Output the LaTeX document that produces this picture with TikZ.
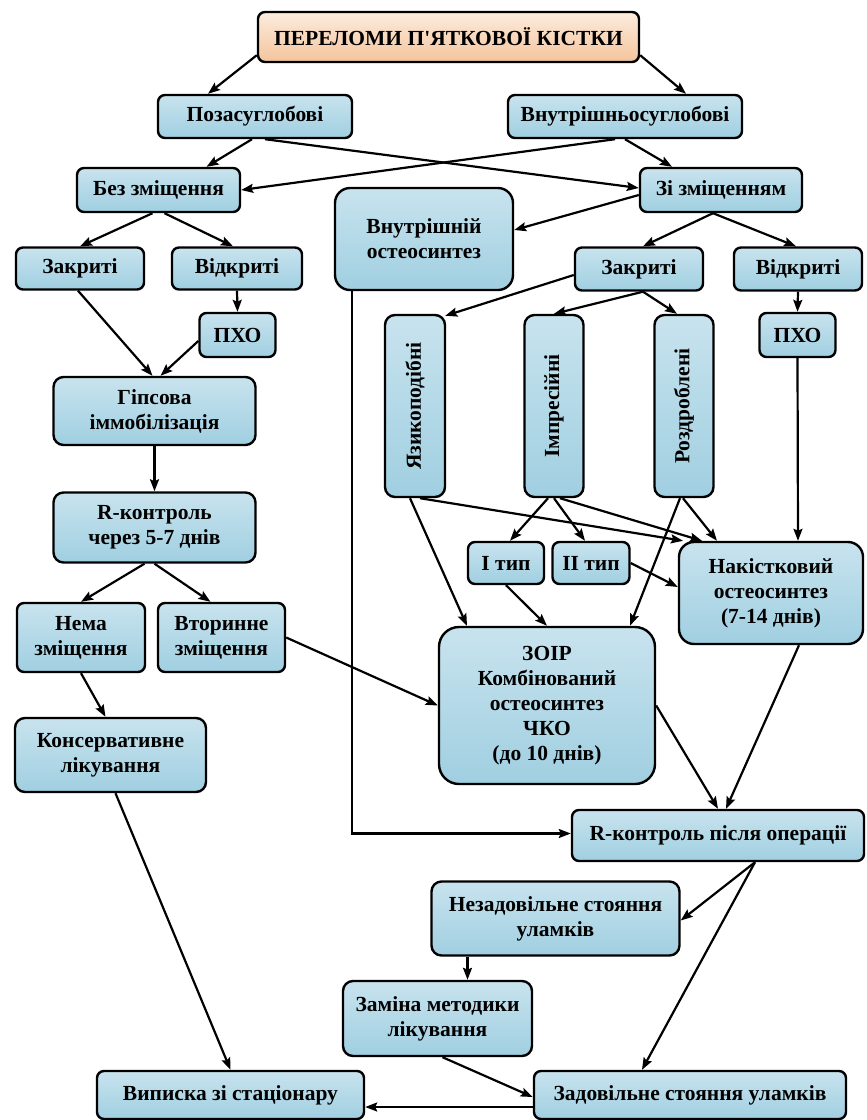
\documentclass[tikz,border=0pt]{standalone}
\usepackage{fontspec}
\setmainfont{Liberation Serif}
\usepackage{graphicx}
\usepackage{tikz}
\usetikzlibrary{positioning}
\usetikzlibrary{arrows.meta}
\definecolor{btop}{RGB}{200,227,238}
\definecolor{bmid}{RGB}{234,244,249}
\definecolor{bbot}{RGB}{160,207,225}
\definecolor{ttop}{RGB}{252,236,222}
\definecolor{tbot}{RGB}{244,196,156}

\begin{document}
\begin{tikzpicture}[x=1pt, y=-1pt,
    main/.style = {rectangle, draw=black, line width=2.4pt, rounded corners=7pt, align=center,
        top color=btop, middle color=bmid, bottom color=bbot, inner sep=2pt,
        font=\bfseries\fontsize{21.5}{25}\selectfont},
    head/.style = {main, top color=ttop, middle color=ttop!60!tbot, bottom color=tbot},
    arr/.style = {line width=2.2pt, -{Stealth[length=12pt, width=9pt, inset=2pt]}}]
    \useasboundingbox (0,0) rectangle (867,1120);
    % top levels
    \node[head, minimum width=381, minimum height=50] (1) at (448.5,37) {ПЕРЕЛОМИ П\textquotesingle ЯТКОВОЇ КІСТКИ};
    \node[main, minimum width=194, minimum height=43] (2) at (255,116.5) {Позасуглобові};
    \node[main, minimum width=234, minimum height=43] (3) at (625,116.5) {Внутрішньосуглобові};
    \node[main, minimum width=163, minimum height=44] (4) at (158.5,190) {Без зміщення};
    \node[main, minimum width=162, minimum height=44] (5) at (721,190) {Зі зміщенням};
    \node[main, minimum width=178, minimum height=102, rounded corners=15pt] (6) at (424,239) {Внутрішній\\остеосинтез};
    \node[main, minimum width=128, minimum height=42] (7) at (80,268.5) {Закриті};
    \node[main, minimum width=130, minimum height=42] (8) at (237,268.5) {Відкриті};
    \node[main, minimum width=128, minimum height=43] (9) at (639,269) {Закриті};
    \node[main, minimum width=128, minimum height=43] (10) at (798,269) {Відкриті};
    \node[main, minimum width=76, minimum height=44] (11) at (237.5,335) {ПХО};
    \node[main, minimum width=76, minimum height=44] (12) at (797.5,335) {ПХО};
    % left branch
    \node[main, minimum width=202, minimum height=68, rounded corners=10pt] (13) at (154.5,411) {Гіпсова\\іммобілізація};
    \node[main, minimum width=202, minimum height=70, rounded corners=10pt] (17) at (154.5,527.5) {R-контроль\\через 5-7 днів};
    \node[main, minimum width=128, minimum height=69] (21) at (81,637.5) {Нема\\зміщення};
    \node[main, minimum width=127, minimum height=69] (22) at (221.5,637.5) {Вторинне\\зміщення};
    \node[main, minimum width=191, minimum height=74, rounded corners=10pt] (24) at (110.5,755) {Консервативне\\лікування};
    % right branch
    \node[main, minimum width=60, minimum height=182, rounded corners=10pt] (14) at (415,406) {\rotatebox{90}{Язикоподібні}};
    \node[main, minimum width=59, minimum height=182, rounded corners=10pt] (15) at (554,406) {\rotatebox{90}{Імпресійні}};
    \node[main, minimum width=59, minimum height=182, rounded corners=10pt] (16) at (684,406) {\rotatebox{90}{Роздроблені}};
    \node[main, minimum width=76, minimum height=42] (18) at (506,563) {І тип};
    \node[main, minimum width=77, minimum height=42] (19) at (591,563) {ІІ тип};
    \node[main, minimum width=184, minimum height=102, rounded corners=15pt] (20) at (771,593) {Накістковий\\остеосинтез\\(7-14 днів)};
    \node[main, minimum width=216, minimum height=157, rounded corners=20pt] (23) at (547,705.5) {ЗОІР\\Комбінований\\остеосинтез\\ЧКО\\(до 10 днів)};
    % after operation
    \node[main, minimum width=292, minimum height=51] (25) at (718,835.5) {R-контроль після операції};
    \node[main, minimum width=248, minimum height=74, rounded corners=10pt] (26) at (555.5,918.5) {Незадовільне стояння\\уламків};
    \node[main, minimum width=189, minimum height=75, rounded corners=10pt] (27) at (437.5,1018.5) {Заміна методики\\лікування};
    \node[main, minimum width=267, minimum height=48] (28) at (230.5,1095) {Виписка зі стаціонару};
    \node[main, minimum width=312, minimum height=48] (29) at (690,1095) {Задовільне стояння уламків};

    \draw[arr] ([yshift=8pt]1.south west) -- ([xshift=-47pt]2.north);
    \draw[arr] ([yshift=8pt]1.south east) -- ([xshift=61pt]3.north);
    \draw[arr] ([xshift=-3pt]2.south) -- ([xshift=48pt]4.north);
    \draw[arr] ([xshift=10pt]2.south) -- ([yshift=2pt]5.west);
    \draw[arr] ([xshift=-10pt]3.south) -- (4.east);
    \draw[arr] (3.south) -- ([xshift=-49pt]5.north);
    \draw[arr] ([xshift=-6pt]4.south) -- (7.north);
    \draw[arr] ([xshift=6pt]4.south) -- ([xshift=-4pt]8.north);
    \draw[arr] (8.south) -- (11.north);
    \draw[arr] ([xshift=-2pt]7.south) -- ([xshift=-2pt]13.north);
    \draw[arr] ([yshift=-6pt]11.west) -- ([xshift=6pt]13.north);
    \draw[arr] (13.south) -- (17.north);
    \draw[arr] ([xshift=-10pt]17.south) -- (21.north);
    \draw[arr] (17.south) -- ([xshift=-11pt]22.north);
    \draw[arr] (21.south) -- ([xshift=-5pt]24.north);
    \draw[arr] (22.east) -- (23.west);
    \draw[arr] ([xshift=5pt]24.south) -- (28.north);
    \draw[arr] ([yshift=-5pt]5.west) -- ([yshift=9pt]6.east);
    \draw[arr] ([xshift=-8pt]5.south) -- ([xshift=4pt]9.north);
    \draw[arr] ([xshift=-8pt]5.south) -- ([xshift=-2pt]10.north);
    \draw[arr] (10.south) -- (12.north);
    \draw[arr] (12.south) -- ([xshift=27pt]20.north);
    \draw[arr] ([yshift=-6pt]9.west) -- ([xshift=-1pt,yshift=-2pt]14.north east);
    \draw[arr] ([xshift=4pt]9.south) -- (15.north);
    \draw[arr] ([xshift=4pt]9.south) -- ([xshift=-7pt]16.north);
    \draw[arr] ([xshift=18pt]6.south west) |- ([yshift=2pt]25.west);
    \draw[arr] ([xshift=-5pt]14.south) -- ([xshift=-80pt]23.north);
    \draw[arr] ([xshift=5pt]14.south) -- ([xshift=-88pt]20.north);
    \draw[arr] ([xshift=-6pt]15.south) -- ([xshift=4pt]18.north);
    \draw[arr] (15.south) -- ([xshift=-6pt]19.north);
    \draw[arr] ([xshift=6pt]15.south) -- ([xshift=-69pt]20.north);
    \draw[arr] ([xshift=-1pt]16.south) -- ([xshift=-54pt]20.north);
    \draw[arr] ([xshift=-4pt]16.south) -- ([xshift=83pt]23.north);
    \draw[arr] (18.south) -- (23.north);
    \draw[arr] (19.east) -- ([yshift=6pt]20.west);
    \draw[arr] (23.east) -- (25.north);
    \draw[arr] ([xshift=28pt]20.south) -- ([xshift=8pt]25.north);
    \draw[arr] ([xshift=37pt]25.south) -- ([yshift=-2pt]26.east);
    \draw[arr] ([xshift=37pt]25.south) -- ([xshift=-48pt]29.north);
    \draw[arr] ([xshift=-88pt]26.south) -- ([xshift=-88pt]26.south |- 27.north);
    \draw[arr] ([xshift=5pt]27.south) -- ([yshift=-2pt]29.west);
    \draw[arr] ([yshift=-12pt]29.west) -- ([yshift=-12pt]28.east);
\end{tikzpicture}
\end{document}
